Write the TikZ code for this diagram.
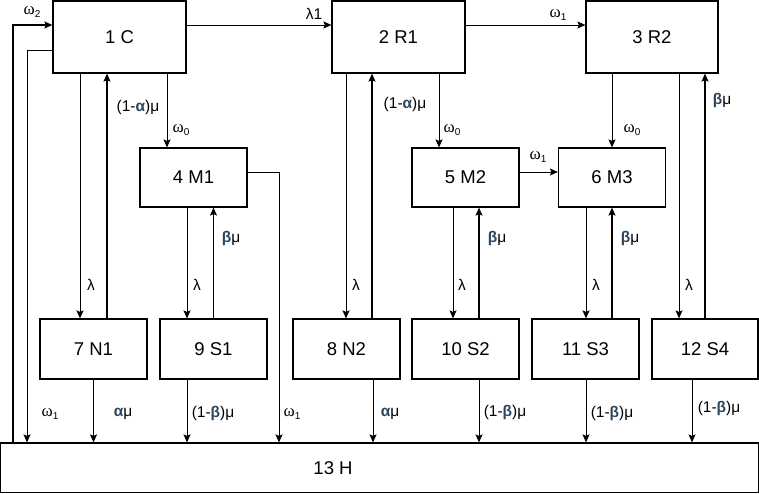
\documentclass[tikz,border=0pt]{standalone}
\usepackage{fontspec}
\setmainfont{Liberation Sans}
\newfontfamily\serifgr{Liberation Serif}
\usetikzlibrary{arrows.meta}
\definecolor{grk}{RGB}{45,70,95}
\newcommand{\om}[1]{{\serifgr\fontsize{17}{17}\selectfont ω}\raisebox{-0.25em}{\fontsize{10}{10}\selectfont #1}}
\newcommand{\ba}{\textcolor{grk}{\textbf{α}}}
\newcommand{\bb}{\textcolor{grk}{\textbf{β}}}
\begin{document}
\begin{tikzpicture}[x=1pt,y=-1pt,
  box/.style={draw, line width=1.2pt, inner sep=0pt, font=\fontsize{18.5}{18.5}\selectfont},
  bigbox/.style={box, minimum width=133pt, minimum height=72pt},
  midbox/.style={box, minimum width=107pt, minimum height=59pt},
  lowbox/.style={box, minimum width=107pt, minimum height=60pt},
  lbl/.style={font=\fontsize{15.5}{15.5}\selectfont, inner sep=0pt},
  arr/.style={line width=1pt, -{Stealth[length=8pt,width=7pt,inset=1.5pt]}},
  thk/.style={line width=1.3pt}]
\useasboundingbox (0,0) rectangle (759,493);
% boxes
\node[bigbox] (C) at (119.5,37) {1 C};
\node[bigbox] (R1) at (398.5,37) {2 R1};
\node[bigbox, minimum width=132pt] (R2) at (652,37) {3 R2};
\node[midbox] (M1) at (193.5,177.5) {4 M1};
\node[midbox] (M2) at (465.5,177.5) {5 M2};
\node[midbox] (M3) at (612,177.5) {6 M3};
\node[lowbox] (N1) at (93.5,349) {7 N1};
\node[lowbox] (S1) at (213.5,349) {9 S1};
\node[lowbox] (N2) at (346.5,349) {8 N2};
\node[lowbox] (S2) at (465.5,349) {10 S2};
\node[lowbox] (S3) at (585.5,349) {11 S3};
\node[lowbox, minimum width=106pt] (S4) at (705,349) {12 S4};
\node[box, minimum width=757.6pt, minimum height=49.3pt] (H) at (379.5,467.65) {};
\node[box, draw=none] (Ht) at (333,468) {13 H};
% connectors
\draw[arr,thk] (H.north -| 13,0) |- (C.west |- 0,25);
\draw[arr] (C.west |- 0,50) -| (H.north -| 27,0);
\draw[arr] (C.east |- 0,25) -- (R1.west |- 0,25);
\draw[arr] (R1.east |- 0,25) -- (R2.west |- 0,25);
\draw[arr] (C.south -| 80,0) -- (N1.north -| 80,0);
\draw[arr,thk] (N1.north -| 107,0) -- (C.south -| 107,0);
\draw[arr] (C.south -| 167,0) -- (M1.north -| 167,0);
\draw[arr] (M1.south -| 187,0) -- (S1.north -| 187,0);
\draw[arr,thk] (S1.north) -- (M1.south -| S1.north);
\draw[arr] (M1.east |- 0,172) -| (H.north -| 279,0);
\draw[arr] (R1.south -| 346,0) -- (N2.north -| 346,0);
\draw[arr,thk] (N2.north -| 372,0) -- (R1.south -| 372,0);
\draw[arr] (R1.south -| 439,0) -- (M2.north -| 439,0);
\draw[arr] (M2.east |- 0,172) -- (M3.west |- 0,172);
\draw[arr] (M2.south -| 453,0) -- (S2.north -| 453,0);
\draw[arr,thk] (S2.north -| 479,0) -- (M2.south -| 479,0);
\draw[arr] (R2.south -| M3.north) -- (M3.north);
\draw[arr] (M3.south -| 586,0) -- (S3.north -| 586,0);
\draw[arr,thk] (S3.north -| 612,0) -- (M3.south -| 612,0);
\draw[arr] (R2.south -| 679,0) -- (S4.north -| 679,0);
\draw[arr,thk] (S4.north) -- (R2.south -| S4.north);
\draw[arr] (N1.south) -- (H.north -| N1.south);
\draw[arr] (S1.south -| 187,0) -- (H.north -| 187,0);
\draw[arr] (N2.south -| 373,0) -- (H.north -| 373,0);
\draw[arr] (S2.south -| 479,0) -- (H.north -| 479,0);
\draw[arr] (S3.south -| 586,0) -- (H.north -| 586,0);
\draw[arr] (S4.south -| 692,0) -- (H.north -| 692,0);
% labels
\node[lbl] (l1) at (32,12) {\om{2}};
\node[lbl] (l2) at (314,14) {λ1};
\node[lbl] (l3) at (558,15) {\om{1}};
\node[lbl] (l4) at (138,107) {(1-\ba)μ};
\node[lbl] (l5) at (405,104) {(1-\ba)μ};
\node[lbl] (l6) at (181,130) {\om{0}};
\node[lbl] (l7) at (452,130) {\om{0}};
\node[lbl] (l8) at (632,130) {\om{0}};
\node[lbl] (l9) at (538,157) {\om{1}};
\node[lbl] (l10) at (231,238) {\bb μ};
\node[lbl] (l11) at (497,238) {\bb μ};
\node[lbl] (l12) at (630,238) {\bb μ};
\node[lbl] (l13) at (722,100) {\bb μ};
\node[lbl] (l14) at (91,285) {λ};
\node[lbl] (l15) at (197,285) {λ};
\node[lbl] (l16) at (356,285) {λ};
\node[lbl] (l17) at (462,285) {λ};
\node[lbl] (l18) at (596,285) {λ};
\node[lbl] (l19) at (689,285) {λ};
\node[lbl] (l20) at (50,414) {\om{1}};
\node[lbl] (l21) at (123,414) {\ba μ};
\node[lbl] (l22) at (213,413) {(1-\bb)μ};
\node[lbl] (l23) at (292,414) {\om{1}};
\node[lbl] (l24) at (390,414) {\ba μ};
\node[lbl] (l25) at (505,412) {(1-\bb)μ};
\node[lbl] (l26) at (612,413) {(1-\bb)μ};
\node[lbl] (l27) at (719,408) {(1-\bb)μ};
\end{tikzpicture}
\end{document}
